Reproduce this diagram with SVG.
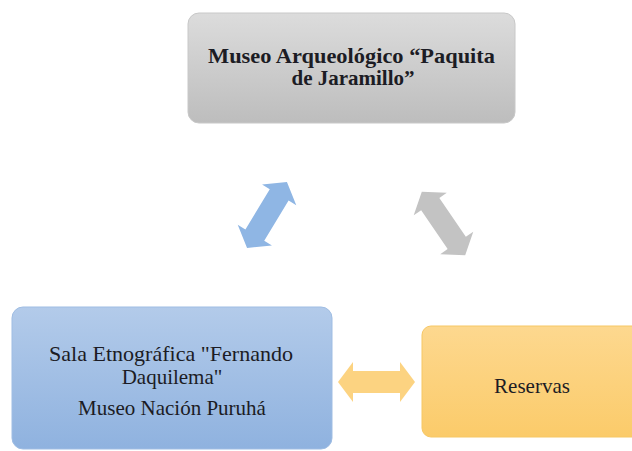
<svg xmlns="http://www.w3.org/2000/svg" width="632" height="451" viewBox="0 0 632 451">
<defs>
<linearGradient id="gGray" x1="0" y1="0" x2="0" y2="1"><stop offset="0" stop-color="#dcdcdc"/><stop offset="1" stop-color="#bdbdbd"/></linearGradient>
<linearGradient id="gBlue" x1="0" y1="0" x2="0" y2="1"><stop offset="0" stop-color="#b3cbea"/><stop offset="1" stop-color="#8fb2df"/></linearGradient>
<linearGradient id="gOrange" x1="0" y1="0" x2="0" y2="1"><stop offset="0" stop-color="#fdd88f"/><stop offset="1" stop-color="#fbcb6a"/></linearGradient>
<path id="dblArrow" d="M -38.5,0 L -23.5,-20 L -23.5,-11 L 23.5,-11 L 23.5,-20 L 38.5,0 L 23.5,20 L 23.5,11 L -23.5,11 L -23.5,20 Z"/>
</defs>
<style>
.t{font-family:"Liberation Serif","Times New Roman",serif;font-size:21px;fill:#1c1c24;text-anchor:middle}
.b{font-weight:bold}
</style>
<rect width="632" height="451" fill="#ffffff"/>
<g id="connectors">
<use href="#dblArrow" transform="translate(267,215) rotate(-58.8)" fill="#8fb6e4"/>
<use href="#dblArrow" transform="translate(443.5,223.5) rotate(55.7)" fill="#c3c3c3"/>
<use href="#dblArrow" transform="translate(376.5,382)" fill="#fcd381"/>
</g>
<g id="node-museo">
<rect x="188" y="13" width="327" height="110" rx="11" fill="url(#gGray)" stroke="#c8c8c8"/>
<text class="t b" x="351.5" y="63" textLength="287" lengthAdjust="spacingAndGlyphs">Museo Arqueológico “Paquita</text>
<text class="t b" x="353" y="85">de Jaramillo”</text>
</g>
<g id="node-sala">
<rect x="12" y="307" width="320" height="142" rx="11" fill="url(#gBlue)" stroke="#9fbde3"/>
<text class="t" x="171" y="361" textLength="244" lengthAdjust="spacingAndGlyphs">Sala Etnográfica "Fernando</text>
<text class="t" x="172" y="384">Daquilema"</text>
<text class="t" x="172" y="415">Museo Nación Puruhá</text>
</g>
<g id="node-reservas">
<rect x="422" y="326" width="220" height="111" rx="9" fill="url(#gOrange)" stroke="#f6c765"/>
<text class="t" x="532" y="393">Reservas</text>
</g>
</svg>
